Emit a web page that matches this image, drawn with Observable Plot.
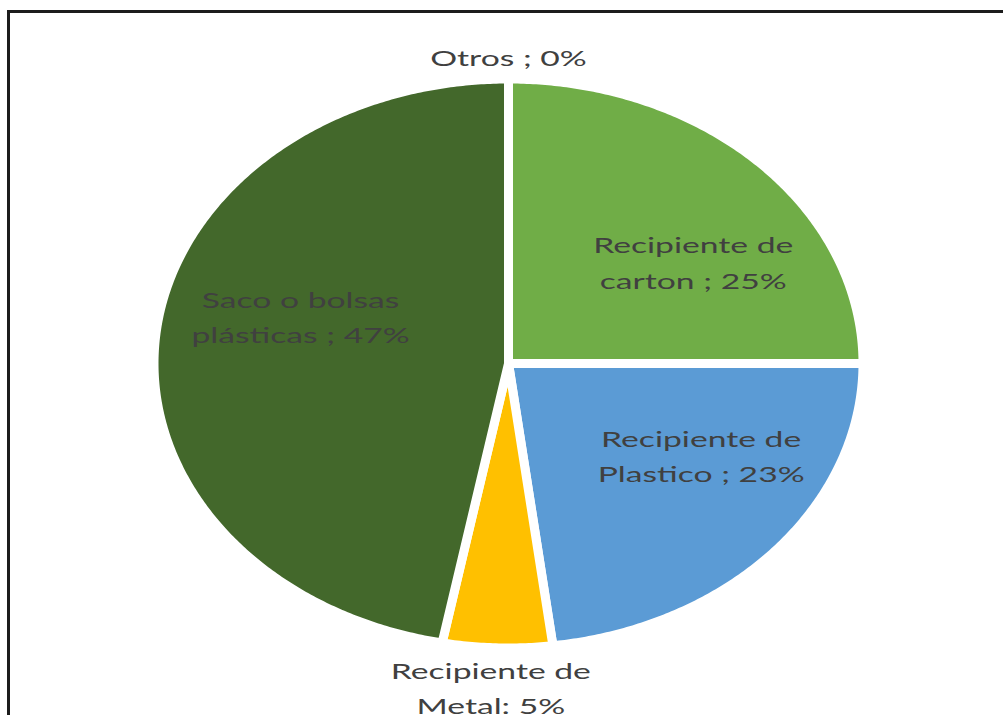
<!DOCTYPE html>
<html><head><meta charset="utf-8">
<script src="https://cdn.jsdelivr.net/npm/d3@7"></script>
<script src="https://cdn.jsdelivr.net/npm/@observablehq/plot@0.6"></script>
<style>
html,body{margin:0;padding:0;background:#fff;overflow:hidden;width:1003px;height:715px}
#frame{position:absolute;left:7px;top:10px;width:1100px;height:800px;border-left:3px solid #1c1c1c;border-top:3px solid #1c1c1c}
#chart{position:absolute;left:0;top:0}
</style></head><body><div id="frame"></div><div id="chart"></div>
<script>
// Data
const categories = ["Recipiente de carton", "Recipiente de Plastico", "Recipiente de Metal", "Saco o bolsas plásticas", "Otros"];
const percentages = [25, 23, 5, 47, 0];
const labelTexts = ["Recipiente de\ncarton ; 25%", "Recipiente de\nPlastico ; 23%", "Recipiente de\nMetal: 5%", "Saco o bolsas\nplásticas ; 47%", "Otros ; 0%"];
const colors = ["#70ad47", "#5b9bd5", "#ffc000", "#43682b", "#a5a5a5"];

// Layout (label radius as fraction of pie radius, angle tweak in degrees)
const labelLayout = [
  {r: 0.63, da: 10.8},
  {r: 0.634, da: -10.4},
  {r: 1.143, da: 0.7},
  {r: 0.609, da: 10.2},
  {r: 1.075, da: 0}
];

const total = d3.sum(percentages);
const pts = [];
const labels = [];
let acc = 0;
percentages.forEach((v, i) => {
  const a0 = acc / total * 360;
  const a1 = (acc + v) / total * 360;
  acc += v;
  const rad = d => d * Math.PI / 180;
  if (v > 0) {
    pts.push({cat: categories[i], x: 0, y: 0});
    const n = Math.max(2, Math.ceil((a1 - a0) / 0.5));
    for (let k = 0; k <= n; k++) {
      const a = rad(a0 + (a1 - a0) * k / n);
      pts.push({cat: categories[i], x: Math.sin(a), y: Math.cos(a)});
    }
    pts.push({cat: categories[i], x: 0, y: 0});
  }
  const mid = rad((a0 + a1) / 2 + labelLayout[i].da);
  labels.push({text: labelTexts[i], x: labelLayout[i].r * Math.sin(mid), y: labelLayout[i].r * Math.cos(mid)});
});

const plot = Plot.plot({
  width: 1003, height: 715,
  marginLeft: 153.5, marginRight: 140.5, marginTop: 78.5, marginBottom: 67.5,
  x: {domain: [-1, 1], axis: null},
  y: {domain: [-1, 1], axis: null},
  color: {domain: categories, range: colors},
  style: {background: "transparent", overflow: "visible"},
  marks: [
    Plot.line(pts, {x: "x", y: "y", z: "cat", fill: "cat", stroke: "white", strokeWidth: 9, strokeLinejoin: "round", curve: "linear"}),
    Plot.text(labels, {x: "x", y: "y", text: "text", fill: "#404040", fontSize: 22, fontFamily: "Lato", lineHeight: 1.6, lineAnchor: "middle", dy: -3})
  ]
});
plot.querySelectorAll('g[aria-label="text"] text').forEach(t => {
  const tr = t.getAttribute("transform") || "";
  t.setAttribute("transform", tr + " scale(1.53,1)");
});
document.getElementById("chart").appendChild(plot);
</script>
</body></html>
